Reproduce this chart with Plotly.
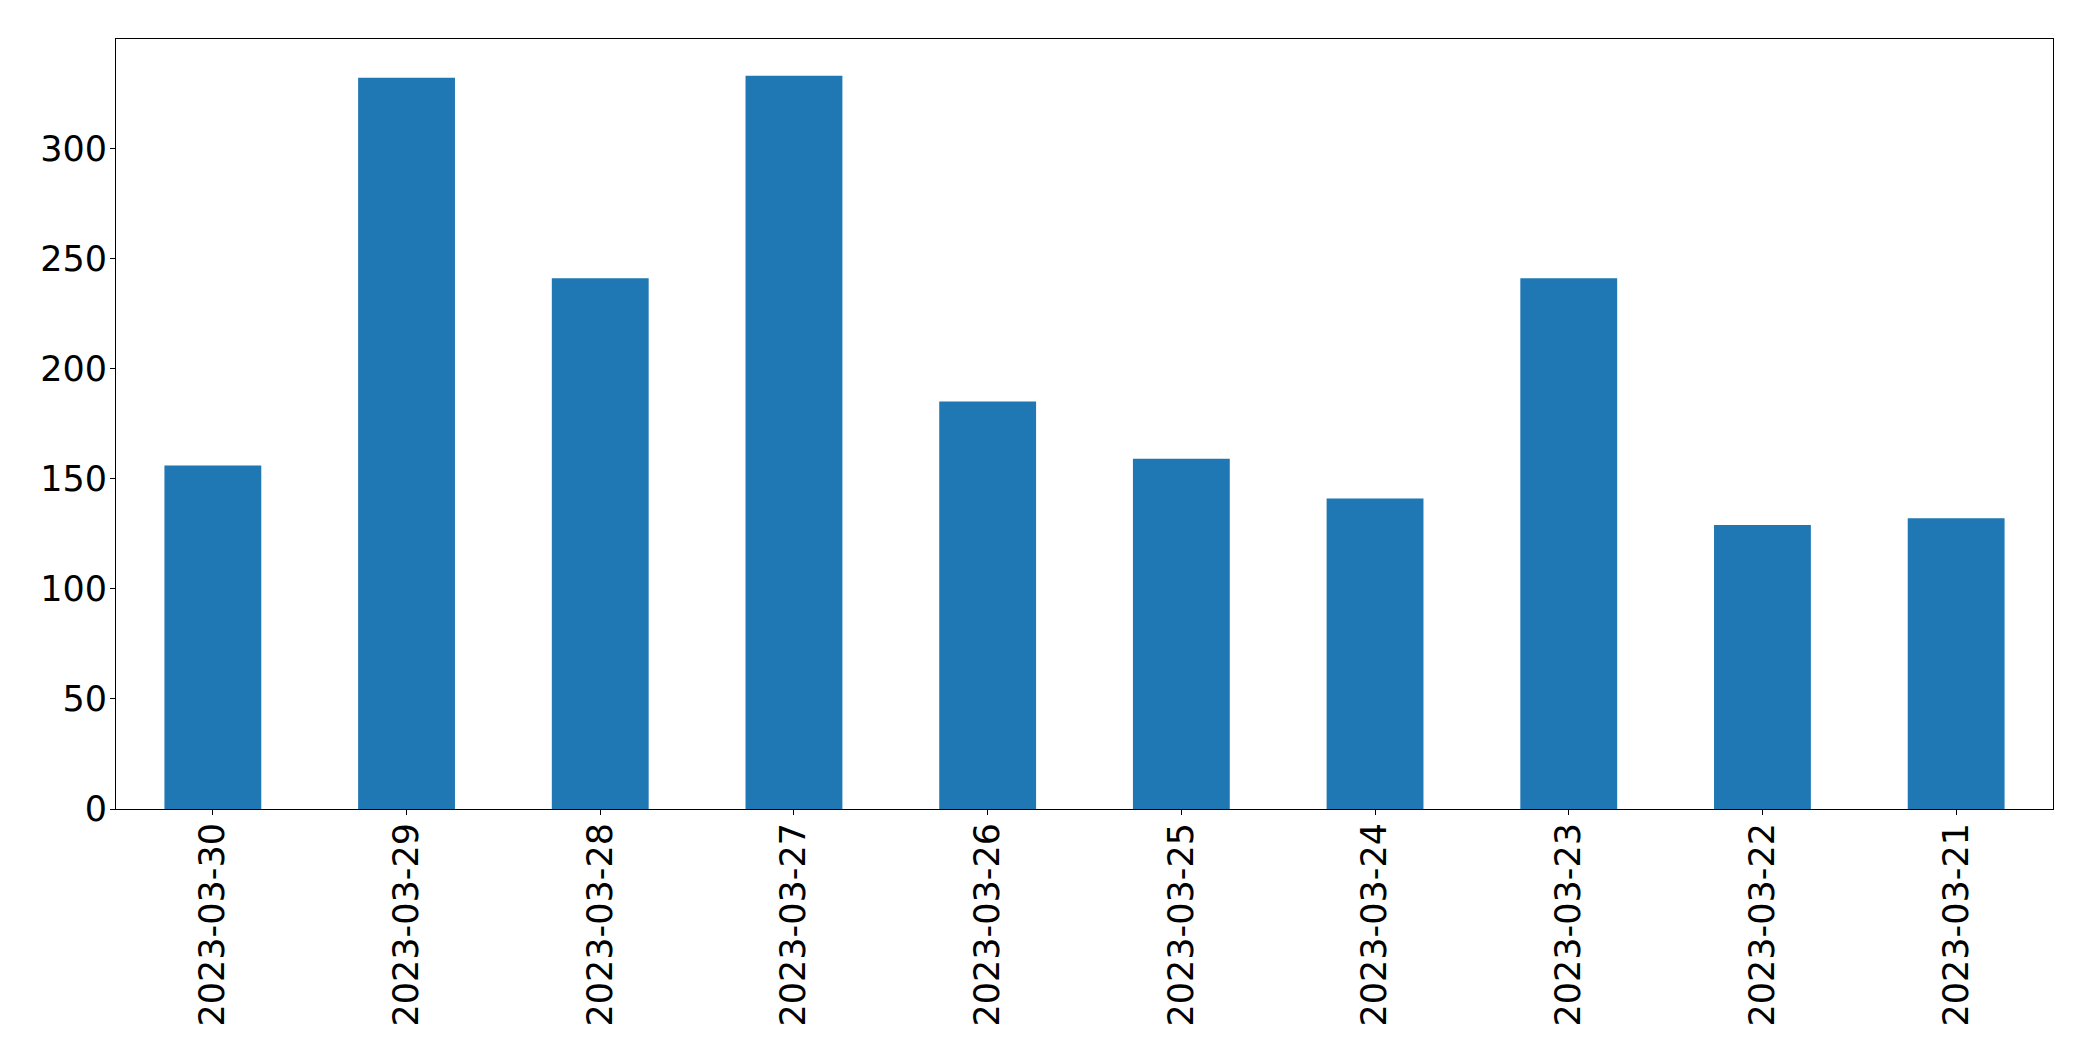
import plotly.graph_objects as go

dates = ["2023-03-30", "2023-03-29", "2023-03-28", "2023-03-27", "2023-03-26",
         "2023-03-25", "2023-03-24", "2023-03-23", "2023-03-22", "2023-03-21"]
counts = [156, 332, 241, 333, 185, 159, 141, 241, 129, 132]
y_ticks = [0, 50, 100, 150, 200, 250, 300]

fig = go.Figure(go.Bar(x=dates, y=counts, marker=dict(color="#1f77b4", line=dict(width=0)),
                       width=0.5))

font = dict(family="DejaVu Sans", size=35, color="black")
fig.update_layout(
    width=2085, height=1053,
    margin=dict(l=108, r=40, t=31, b=252),
    paper_bgcolor="white", plot_bgcolor="white",
    font=font, showlegend=False,
)
fig.update_xaxes(type="category", range=[-0.5, 9.5], tickangle=-90,
                 showline=True, linecolor="black", linewidth=1.1, mirror=True,
                 ticks="outside", ticklen=5, tickwidth=1.1, tickcolor="black",
                 ticklabelstandoff=-6,
                 showgrid=False, zeroline=False, tickfont=font)
fig.update_yaxes(range=[0, 349.65], tickvals=y_ticks, ticktext=[str(v) for v in y_ticks],
                 showline=True, linecolor="black", linewidth=1.1, mirror=True,
                 ticks="outside", ticklen=5, tickwidth=1.1, tickcolor="black",
                 ticklabelstandoff=-4,
                 showgrid=False, zeroline=False, tickfont=font)

fig.write_html("out.html")
